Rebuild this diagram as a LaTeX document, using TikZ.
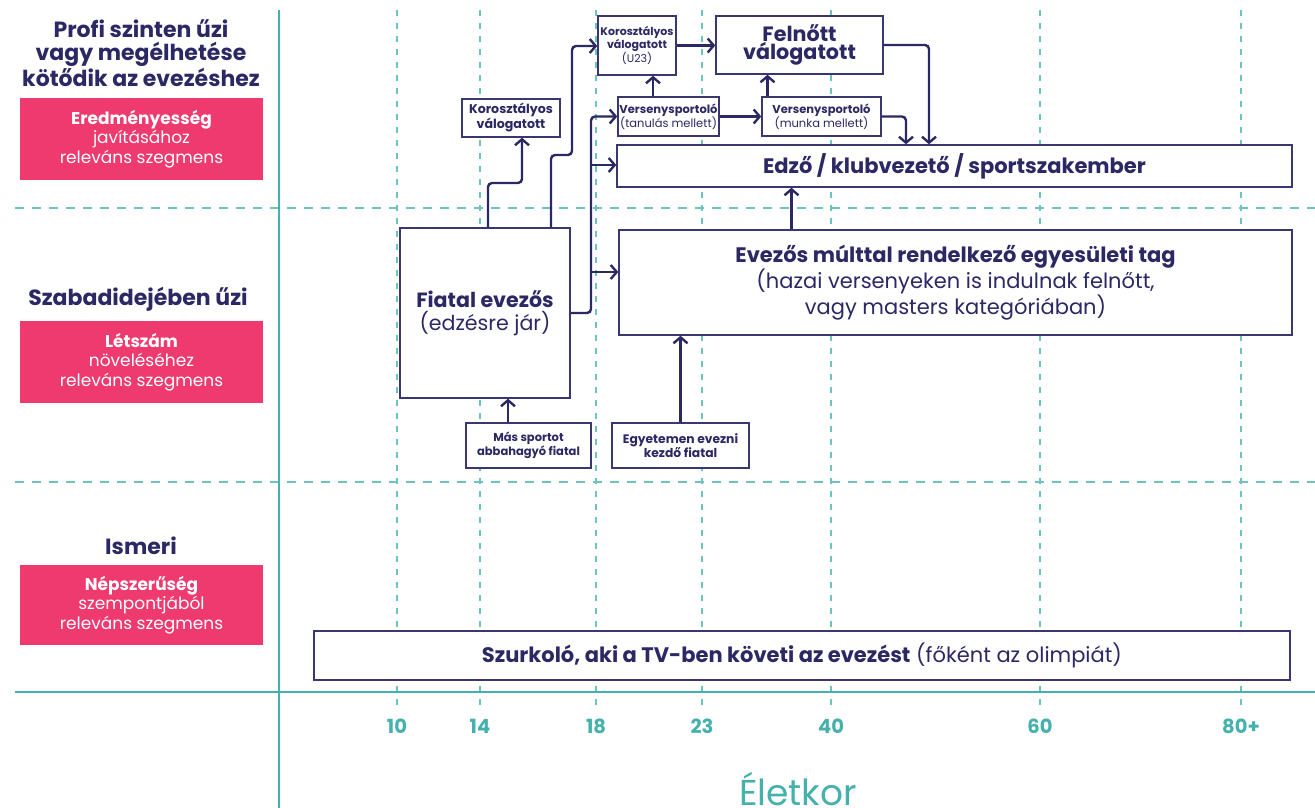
\documentclass[tikz,border=0pt]{standalone}
\usepackage{fontspec}
\setmainfont{Poppins}
\usetikzlibrary{arrows.meta}
\definecolor{inkblue}{HTML}{2B2864}
\definecolor{boxline}{HTML}{3A3672}
\definecolor{axisteal}{HTML}{45B1AC}
\definecolor{dashteal}{HTML}{6CC3BF}
\definecolor{segpink}{HTML}{EE3A6E}
\tikzset{
  box/.style={draw=boxline, line width=1.4pt, fill=white, inner sep=0pt, align=center, text=inkblue},
  conn/.style={draw=inkblue, line width=2.4pt, rounded corners=4pt, -{Straight Barb[length=6pt,width=14pt]}},
  vgrid/.style={draw=dashteal, line width=1.3pt, dash pattern=on 6pt off 7pt},
  hgrid/.style={draw=dashteal, line width=1.3pt, dash pattern=on 9pt off 8pt},
  axisline/.style={draw=axisteal, line width=2.4pt},
  seg/.style={fill=segpink, text=white, inner sep=0pt, align=center, minimum width=243pt, font=\fontsize{17}{19.5}\selectfont},
  heading/.style={text=inkblue, align=center, font=\fontsize{22}{23}\selectfont\bfseries},
  tick/.style={text=axisteal, font=\fontsize{19.5}{21}\selectfont\bfseries},
  small/.style={font=\fontsize{11.5}{14}\selectfont},
}
\begin{document}
\begin{tikzpicture}[x=1pt,y=-1pt]
\useasboundingbox (0,0) rectangle (1315,808);
% grid
\foreach \gx in {397,480,596,702,831,1040,1241}{
  \draw[vgrid] (\gx,10) -- (\gx,712);
}
\draw[hgrid] (15,208) -- (1315,208);
\draw[hgrid] (15,482) -- (1315,482);
% axes
\draw[axisline] (279,10) -- (279,808);
\draw[axisline] (15,692) -- (1315,692);
% tick labels
\node[tick] (t10) at (397,726) {10};
\node[tick] (t14) at (480,726) {14};
\node[tick] (t18) at (596,726) {18};
\node[tick] (t23) at (702,726) {23};
\node[tick] (t40) at (831,726) {40};
\node[tick] (t60) at (1040,726) {60};
\node[tick] (t80) at (1241,726) {80+};
\node[text=axisteal, font=\fontsize{36}{38}\selectfont, anchor=base, inner sep=0pt] (axlabel) at (798,805) {Életkor};
% left headings
\node[heading] (h1) at (141,53) {Profi szinten űzi\\vagy megélhetése\\kötődik az evezéshez};
\node[seg, minimum height=82pt] (s1) at (141.5,139) {\textbf{Eredményesség}\\javításához\\releváns szegmens};
\node[heading] (h2) at (138,299) {Szabadidejében űzi};
\node[seg, minimum height=82pt] (s2) at (141.5,362) {\textbf{Létszám}\\növeléséhez\\releváns szegmens};
\node[heading] (h3) at (141,546) {Ismeri};
\node[seg, minimum height=80pt] (s3) at (141.5,605) {\textbf{Népszerűség}\\szempontjából\\releváns szegmens};
% boxes
\node[box, font=\fontsize{12.6}{15}\selectfont, minimum width=98pt, minimum height=38pt] (kv) at (511,118) {\textbf{Korosztályos}\\\textbf{válogatott}};
\node[box, font=\fontsize{11}{13}\selectfont, minimum width=78pt, minimum height=59pt] (u23) at (637,45.5) {\textbf{Korosztályos}\\\textbf{válogatott}\\(U23)};
\node[box, font=\fontsize{20.7}{18}\selectfont\bfseries, minimum width=167pt, minimum height=58pt] (felnott) at (799.5,45) {Felnőtt\\válogatott};
\node[box, small, minimum width=101pt, minimum height=39pt] (vt) at (668.5,116.5) {\textbf{Versenysportoló}\\(tanulás mellett)};
\node[box, small, minimum width=119pt, minimum height=39pt] (vm) at (821.5,116.5) {\textbf{Versenysportoló}\\(munka mellett)};
\node[box, font=\fontsize{21}{22}\selectfont\bfseries, minimum width=675pt, minimum height=42pt] (edzo) at (954.5,166) {Edző / klubvezető / sportszakember};
\node[box, font=\fontsize{20.6}{23}\selectfont, minimum width=170pt, minimum height=170pt] (fiatal) at (485,313) {\textbf{Fiatal evezős}\\(edzésre jár)};
\node[box, font=\fontsize{21}{22.5}\selectfont, minimum width=673pt, minimum height=105pt] (evezos) at (955.5,282.5) {\textbf{Evezős múlttal rendelkező egyesületi tag}\\(hazai versenyeken is indulnak felnőtt,\\vagy masters kategóriában)};
\node[box, small, minimum width=125pt, minimum height=45pt] (mas) at (528.5,445.5) {\textbf{Más sportot}\\\textbf{abbahagyó fiatal}};
\node[box, font=\fontsize{12.3}{14.5}\selectfont, minimum width=137pt, minimum height=45pt] (egyetem) at (680.5,445.5) {\textbf{Egyetemen evezni}\\\textbf{kezdő fiatal}};
\node[box, font=\fontsize{21}{22}\selectfont, minimum width=976pt, minimum height=49pt] (szurk) at (802,655.5) {\textbf{Szurkoló, aki a TV-ben követi az evezést} (főként az olimpiát)};
% connectors
\coordinate (j1) at (488,183);
\draw[conn] (fiatal.north -| j1) -- (j1) -| ([xshift=11pt]kv.south);
\coordinate (j2) at (551,155);
\coordinate (j3) at (572,46);
\draw[conn] (fiatal.north -| j2) -- (j2) -| (j3) -- (j3 -| u23.west);
\coordinate (bus) at (591,313);
\draw[conn] (fiatal.east |- bus) -- (bus) |- (vt.west);
\coordinate (b2) at (591,165);
\draw[conn] (b2) -- (b2 -| edzo.west);
\coordinate (b3) at (591,272);
\draw[conn] (b3) -- (b3 -| evezos.west);
\draw[conn] (u23.east) -- (u23.east -| felnott.west);
\draw[conn] ([xshift=-15.5pt]vt.north) -- ([xshift=-15.5pt]vt.north |- u23.south);
\draw[conn] (vt.east) -- (vt.east -| vm.west);
\draw[conn] ([xshift=-54pt]vm.north) -- ([xshift=-54pt]vm.north |- felnott.south);
\draw[conn] (vm.east) -| ([xshift=-48.5pt]edzo.north);
\draw[conn] (felnott.east) -| ([xshift=-25.5pt]edzo.north);
\draw[conn] ([xshift=-164pt]evezos.north) -- ([xshift=-164pt]evezos.north |- edzo.south);
\draw[conn] ([xshift=-20.5pt]mas.north) -- ([xshift=-20.5pt]mas.north |- fiatal.south);
\draw[conn] (egyetem.north) -- (egyetem.north |- evezos.south);
\end{tikzpicture}
\end{document}
